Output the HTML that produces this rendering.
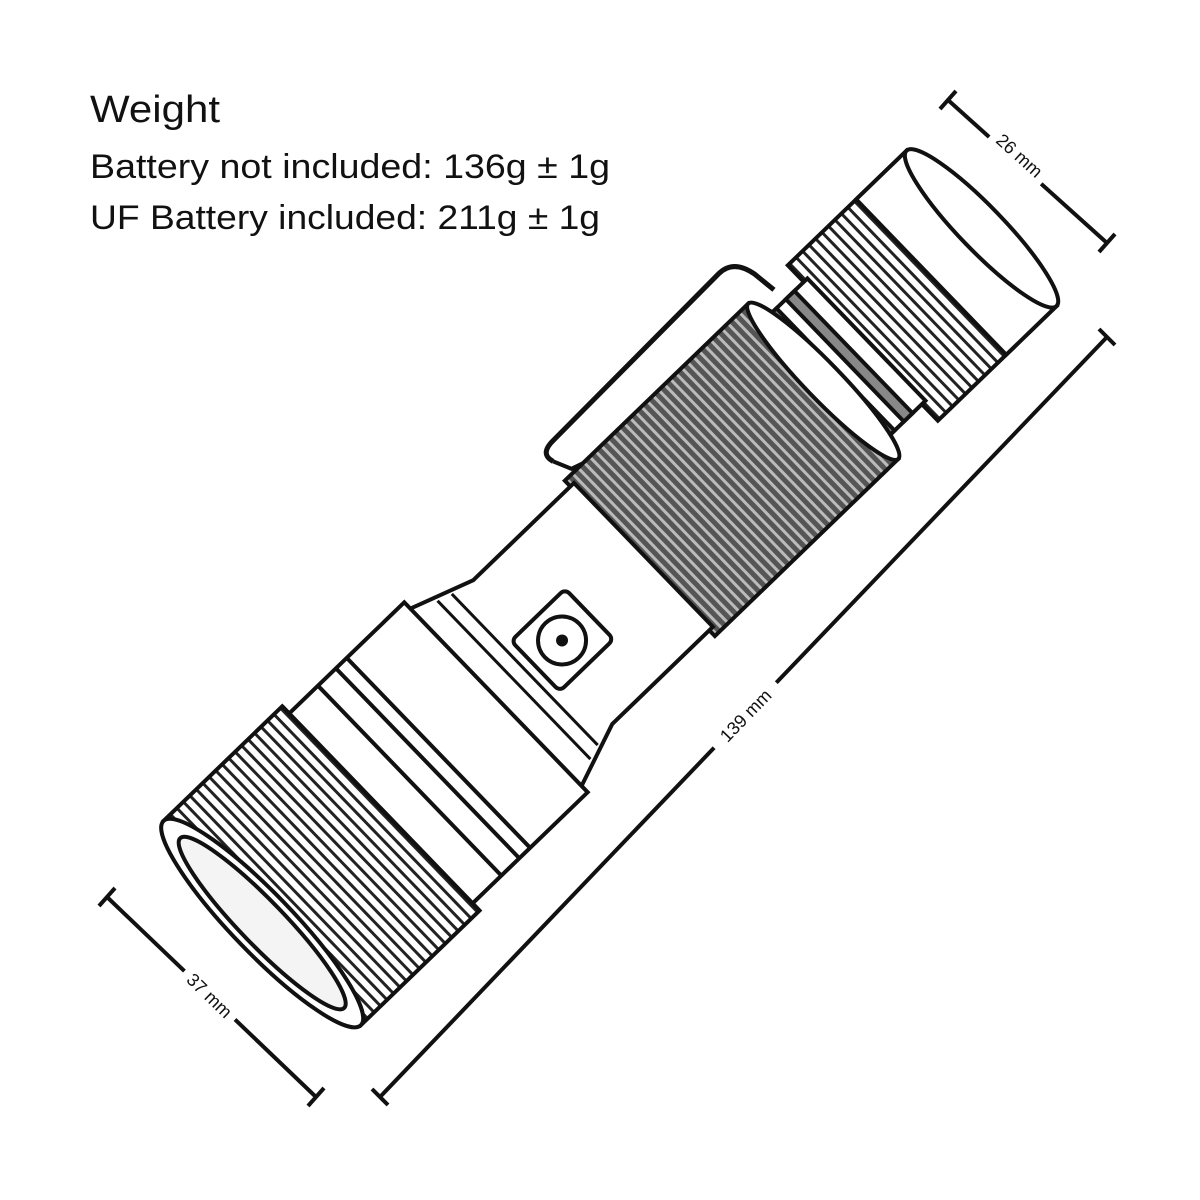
<!DOCTYPE html>
<html><head><meta charset="utf-8"><style>
html,body{margin:0;padding:0;background:#fff}
svg{display:block}
text{font-family:"Liberation Sans",sans-serif;fill:#111}
</style></head><body>
<svg width="1200" height="1200" viewBox="0 0 1200 1200" xmlns="http://www.w3.org/2000/svg">
<defs>
<pattern id="knurl" width="9" height="10" patternUnits="userSpaceOnUse">
<rect width="9" height="10" fill="#fff"/><rect width="3" height="10" fill="#222"/></pattern>
<pattern id="dark" width="8" height="10" patternUnits="userSpaceOnUse">
<rect width="8" height="10" fill="#555"/><rect width="3" height="10" fill="#bbb"/></pattern>
</defs>
<text x="90" y="122" font-size="38" textLength="130" lengthAdjust="spacingAndGlyphs">Weight</text>
<text x="90" y="178" font-size="34" textLength="520" lengthAdjust="spacingAndGlyphs">Battery not included: 136g ± 1g</text>
<text x="90" y="229" font-size="34" textLength="510" lengthAdjust="spacingAndGlyphs">UF Battery included: 211g ± 1g</text>

<g stroke="#111" stroke-width="4" fill="none">
<line x1="948" y1="100" x2="1107" y2="243"/>
<line x1="940" y1="109" x2="956" y2="91"/>
<line x1="1099" y1="252" x2="1115" y2="234"/>
<line x1="1107" y1="337" x2="380" y2="1097"/>
<line x1="1099" y1="329" x2="1115" y2="345"/>
<line x1="372" y1="1089" x2="388" y2="1105"/>
<line x1="107" y1="897" x2="316" y2="1097"/>
<line x1="99" y1="906" x2="115" y2="888"/>
<line x1="308" y1="1106" x2="324" y2="1088"/>
</g>
<rect x="985" y="140" width="70" height="30" fill="#fff" transform="rotate(42 1020 155)"/>
<text x="1020" y="162" font-size="18" text-anchor="middle" transform="rotate(42 1020 155)">26 mm</text>
<rect x="700" y="700" width="90" height="30" fill="#fff" transform="rotate(-46 745 715)"/>
<text x="745" y="722" font-size="18" text-anchor="middle" transform="rotate(-46 745 715)">139 mm</text>
<rect x="175" y="980" width="70" height="30" fill="#fff" transform="rotate(44 210 995)"/>
<text x="210" y="1002" font-size="18" text-anchor="middle" transform="rotate(44 210 995)">37 mm</text>

<g transform="translate(255,930) rotate(-44)" stroke="#111" stroke-width="4">
<rect x="845" y="-108" width="165" height="216" fill="url(#knurl)"/>
<rect x="940" y="-108" width="70" height="216" fill="#fff"/>
<ellipse cx="1010" cy="0" rx="22" ry="108" fill="#fff"/>
<rect x="780" y="-85" width="70" height="170" fill="#fff"/>
<rect x="795" y="-85" width="12" height="170" fill="#888"/>
<rect x="820" y="-85" width="12" height="170" fill="#888"/>
<rect x="535" y="-108" width="255" height="216" fill="url(#dark)"/>
<ellipse cx="790" cy="0" rx="18" ry="108" fill="#fff"/>
<path d="M330,-125 L400,-100 L540,-100 L540,100 L400,100 L330,125 Z" fill="#fff"/>
<line x1="360" y1="-110" x2="360" y2="110" stroke-width="3"/>
<line x1="375" y1="-105" x2="375" y2="105" stroke-width="3"/>
<rect x="385" y="-30" width="75" height="70" rx="6" fill="#fff"/>
<circle cx="422" cy="5" r="24" fill="#fff"/>
<circle cx="422" cy="5" r="4" fill="#111"/>
<rect x="170" y="-132" width="165" height="264" fill="#fff"/>
<line x1="215" y1="-132" x2="215" y2="132"/>
<line x1="240" y1="-132" x2="240" y2="132"/>
<line x1="255" y1="-132" x2="255" y2="132"/>
<rect x="10" y="-142" width="165" height="284" fill="url(#knurl)"/>
<line x1="175" y1="-142" x2="175" y2="142"/>
<ellipse cx="10" cy="0" rx="30" ry="142" fill="#fff"/>
<ellipse cx="10" cy="0" rx="22" ry="118" fill="#f4f4f4"/>
<path d="M540,-130 Q535,-145 555,-145 L790,-150 Q810,-150 815,-125 L818,-100" fill="none" stroke-width="5"/>
<path d="M540,-130 L548,-112 L560,-108" fill="none" stroke-width="4"/>
</g>
</svg>
</body></html>
